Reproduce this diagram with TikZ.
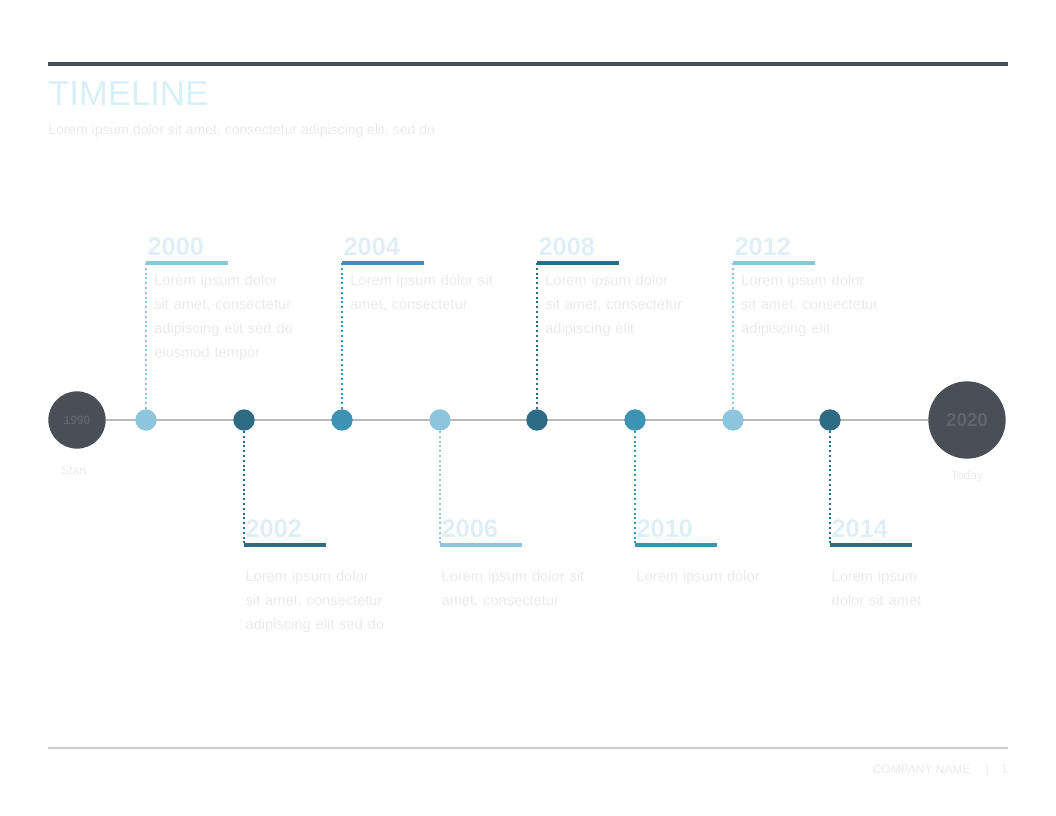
\documentclass[tikz,border=0pt]{standalone}
\usepackage{fontspec}
\setmainfont{Liberation Sans}
\usepackage{tikz}
\usetikzlibrary{positioning}
\hyphenpenalty=10000

\definecolor{slate}{RGB}{74,78,87}
\definecolor{lightblue}{RGB}{140,197,220}
\definecolor{midblue}{RGB}{61,147,180}
\definecolor{darkteal}{RGB}{46,107,133}
\definecolor{axisgrey}{RGB}{185,185,185}
\definecolor{rulegrey}{RGB}{205,205,205}
\definecolor{yeartext}{RGB}{224,239,245}
\definecolor{desctext}{RGB}{234,234,234}

\tikzset{
  bigdot/.style={circle, fill=slate, inner sep=0pt},
  smalldot/.style={circle, fill=#1, inner sep=0pt, minimum size=16pt},
  stem/.style={#1, line width=1.6pt, dotted},
  bar/.style={#1, line width=3pt},
  yearlabel/.style={anchor=south west, inner sep=1pt, text=yeartext, font=\fontsize{19}{19}\selectfont\bfseries},
  desclabel/.style={anchor=north west, inner sep=1pt, text=desctext, align=left, text width=125pt, font=\fontsize{11}{18}\selectfont}
}

\begin{document}
\begin{tikzpicture}[x=0.75pt,y=0.75pt,yscale=-1]
  \useasboundingbox (0,0) rectangle (1056,816);

  % header and footer
  \draw [slate, line width=3pt] (48,64) -- (1008,64);
  \node [anchor=west, inner sep=0pt, text={rgb,255:red,215;green,240;blue,248}, font=\fontsize{26}{26}\selectfont] (title) at (48,94) {TIMELINE};
  \node [anchor=west, inner sep=0pt, text=desctext, font=\fontsize{10.5}{12}\selectfont] (subtitle) at (48,131) {Lorem ipsum dolor sit amet, consectetur adipiscing elit, sed do};
  \draw [rulegrey, line width=1.5pt] (48,748) -- (1008,748);
  \node [anchor=east, inner sep=0pt, text=desctext, font=\fontsize{9}{10}\selectfont] (footer) at (1008,770) {COMPANY NAME \quad|\quad 1};

  % axis
  \node [bigdot, minimum size=43pt] (start) at (77,420) {};
  \node [bigdot, minimum size=58pt] (end) at (967,420) {};
  \draw [axisgrey, line width=1.5pt] (start) -- (end);
  \node [text=slate!88!white, font=\fontsize{9}{9}\selectfont\bfseries] at (start) {1990};
  \node [text=slate!88!white, font=\fontsize{14}{14}\selectfont\bfseries] at (end) {2020};
  \node [text=desctext, font=\fontsize{9}{9}\selectfont] (startlabel) at (74,470) {Start};
  \node [text=desctext, font=\fontsize{9}{9}\selectfont] (endlabel) at (967,476) {Today};

  \node [smalldot=lightblue] (d1) at (146,420) {};
  \node [smalldot=darkteal] (d2) at (244,420) {};
  \node [smalldot=midblue] (d3) at (342,420) {};
  \node [smalldot=lightblue] (d4) at (440,420) {};
  \node [smalldot=darkteal] (d5) at (537,420) {};
  \node [smalldot=midblue] (d6) at (635,420) {};
  \node [smalldot=lightblue] (d7) at (733,420) {};
  \node [smalldot=darkteal] (d8) at (830,420) {};

  % events above
  \coordinate (t1) at (146,263); \coordinate (e1) at (228,263);
  \coordinate (t3) at (342,263); \coordinate (e3) at (424,263);
  \coordinate (t5) at (537,263); \coordinate (e5) at (619,263);
  \coordinate (t7) at (733,263); \coordinate (e7) at (815,263);
  \draw [stem=lightblue] (d1) -- (t1);
  \draw [stem=midblue] (d3) -- (t3);
  \draw [stem=darkteal] (d5) -- (t5);
  \draw [stem=lightblue] (d7) -- (t7);
  \draw [bar=lightblue] (t1) -- (e1);
  \draw [bar=midblue] (t3) -- (e3);
  \draw [bar=darkteal] (t5) -- (e5);
  \draw [bar=lightblue] (t7) -- (e7);
  \node [yearlabel, above right=4pt and 0pt of t1] (y1) {2000};
  \node [yearlabel, above right=4pt and 0pt of t3] (y3) {2004};
  \node [yearlabel, above right=4pt and 0pt of t5] (y5) {2008};
  \node [yearlabel, above right=4pt and 0pt of t7] (y7) {2012};
  \node [desclabel, below right=8pt and 5pt of t1] (x1) {Lorem ipsum dolor sit amet, consectetur adipiscing elit sed do eiusmod tempor};
  \node [desclabel, below right=8pt and 5pt of t3] (x3) {Lorem ipsum dolor sit amet, consectetur};
  \node [desclabel, below right=8pt and 5pt of t5] (x5) {Lorem ipsum dolor sit amet, consectetur adipiscing elit};
  \node [desclabel, below right=8pt and 5pt of t7] (x7) {Lorem ipsum dolor sit amet, consectetur adipiscing elit};

  % events below
  \coordinate (t2) at (244,545); \coordinate (e2) at (326,545);
  \coordinate (t4) at (440,545); \coordinate (e4) at (522,545);
  \coordinate (t6) at (635,545); \coordinate (e6) at (717,545);
  \coordinate (t8) at (830,545); \coordinate (e8) at (912,545);
  \draw [stem=darkteal] (d2) -- (t2);
  \draw [stem=lightblue] (d4) -- (t4);
  \draw [stem=midblue] (d6) -- (t6);
  \draw [stem=darkteal] (d8) -- (t8);
  \draw [bar=darkteal] (t2) -- (e2);
  \draw [bar=lightblue] (t4) -- (e4);
  \draw [bar=midblue] (t6) -- (e6);
  \draw [bar=darkteal] (t8) -- (e8);
  \node [yearlabel, above right=4pt and 0pt of t2] (y2) {2002};
  \node [yearlabel, above right=4pt and 0pt of t4] (y4) {2006};
  \node [yearlabel, above right=4pt and 0pt of t6] (y6) {2010};
  \node [yearlabel, above right=4pt and 0pt of t8] (y8) {2014};
  \node [desclabel, below right=18pt and 0pt of t2] (x2) {Lorem ipsum dolor sit amet, consectetur adipiscing elit sed do};
  \node [desclabel, below right=18pt and 0pt of t4] (x4) {Lorem ipsum dolor sit amet, consectetur};
  \node [desclabel, below right=18pt and 0pt of t6] (x6) {Lorem ipsum dolor};
  \node [desclabel, below right=18pt and 0pt of t8, text width=70pt] (x8) {Lorem ipsum dolor sit amet};

\end{tikzpicture}
\end{document}
